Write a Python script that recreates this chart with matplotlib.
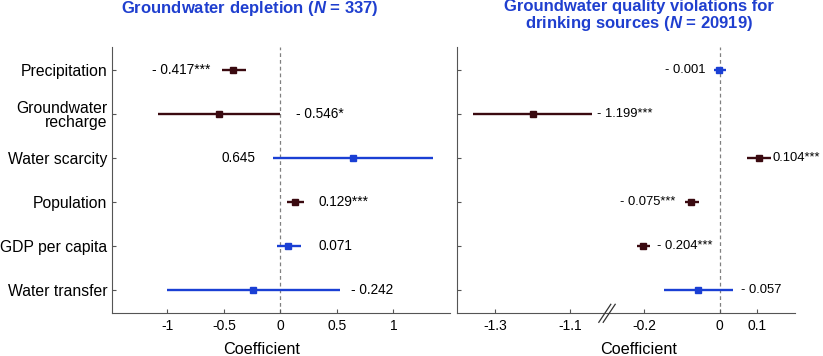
import numpy as np
import matplotlib.pyplot as plt

plt.rcParams['font.family'] = ['Liberation Sans', 'DejaVu Sans']
plt.rcParams['mathtext.fontset'] = 'custom'
plt.rcParams['mathtext.rm'] = 'Liberation Sans'
plt.rcParams['mathtext.bf'] = 'Liberation Sans:bold'
plt.rcParams['mathtext.bfit'] = 'Liberation Sans:bold:italic'

factors = ['Precipitation', 'Groundwater\nrecharge', 'Water scarcity',
           'Population', 'GDP per capita', 'Water transfer']

# groundwater depletion (N = 337)
dep_coef = [-0.417, -0.546, 0.645, 0.129, 0.071, -0.242]
dep_lo = [-0.514, -1.086, -0.064, 0.055, -0.028, -1.003]
dep_hi = [-0.309, -0.004, 1.353, 0.209, 0.180, 0.523]
dep_stars = ['***', '*', '', '***', '', '']

# groundwater quality violations (N = 20919)
qual_coef = [-0.001, -1.199, 0.104, -0.075, -0.204, -0.057]
qual_lo = [-0.016, -1.357, 0.072, -0.093, -0.221, -0.149]
qual_hi = [0.017, -1.043, 0.135, -0.055, -0.184, 0.035]
qual_stars = ['', '***', '***', '***', '***', '']

dep_ticks = [-1, -0.5, 0, 0.5, 1]
dep_ticklabels = ['-1', '-0.5', '0', '0.5', '1']
qual_ticks = [-1.3, -1.1, -0.2, 0, 0.1]
qual_ticklabels = ['-1.3', '-1.1', '-0.2', '0', '0.1']

# where the value label sits (side of the CI, gap in px)
dep_side = ['l', 'r', 'l', 'r', 'r', 'r']
dep_gap = [12, 16, 18, 14, 18, 11]
qual_side = ['l', 'r', 'r', 'l', 'r', 'r']
qual_gap = [8, 5, 2, 9, 7, 8]

MAROON = '#3a0a10'
BLUE = '#1a3fd4'
TITLE = '#1f3fcf'
SPINE = '#555555'

# broken axis for the right panel
BRK_LO, BRK_HI, SHIFT = -1.02, -0.31, 0.703


def fwd(x):
    x = np.asarray(x, dtype=float)
    lt = BRK_LO + SHIFT
    mid = lt + (x - BRK_LO) * (BRK_HI - lt) / (BRK_HI - BRK_LO)
    return np.where(x <= BRK_LO, x + SHIFT, np.where(x >= BRK_HI, x, mid))


def inv(t):
    t = np.asarray(t, dtype=float)
    lt = BRK_LO + SHIFT
    mid = BRK_LO + (t - lt) * (BRK_HI - BRK_LO) / (BRK_HI - lt)
    return np.where(t <= lt, t - SHIFT, np.where(t >= BRK_HI, t, mid))


def fmt(c, s):
    if c < 0:
        return '- %.3f%s' % (abs(c), s)
    return '%.3f%s' % (c, s)


def draw(ax, coef, lo, hi, stars, side, gap, fs):
    y = np.arange(len(factors))
    ax.axvline(0, color='#808080', lw=0.9, ls=(0, (3, 2.4)), zorder=1)
    for i in range(len(factors)):
        col = MAROON if stars[i] else BLUE
        ax.plot([lo[i], hi[i]], [y[i], y[i]], color=col, lw=1.7,
                solid_capstyle='butt', zorder=3)
        ax.plot(coef[i], y[i], 's', color=col, ms=5, zorder=4)
        if side[i] == 'l':
            x, dx, ha = lo[i], -gap[i] * 0.72, 'right'
        else:
            x, dx, ha = hi[i], gap[i] * 0.72, 'left'
        ax.annotate(fmt(coef[i], stars[i]), (x, y[i]), xytext=(dx, 0),
                    textcoords='offset points', ha=ha, va='center',
                    fontsize=fs, color='black', annotation_clip=False)
    ax.set_ylim(len(factors) - 0.48, -0.53)
    ax.set_yticks(y)
    for s in ['top', 'right']:
        ax.spines[s].set_visible(False)
    for s in ['left', 'bottom']:
        ax.spines[s].set_color(SPINE)
        ax.spines[s].set_linewidth(0.8)
    ax.tick_params(direction='in', length=3, width=0.8, color=SPINE)
    ax.tick_params(axis='x', labelsize=10, pad=4)
    ax.tick_params(axis='y', labelsize=11.3, pad=3.5)


fig = plt.figure(figsize=(8.23, 3.56), dpi=100)
W, H = 823, 356
ax1 = fig.add_axes([112 / W, 1 - 313.3 / H, 338 / W, 266.6 / H])
ax2 = fig.add_axes([457.3 / W, 1 - 313.3 / H, 337.7 / W, 266.6 / H])

draw(ax1, dep_coef, dep_lo, dep_hi, dep_stars, dep_side, dep_gap, 9.8)
ax1.set_xlim(-1.49, 1.5)
ax1.set_xticks(dep_ticks)
ax1.set_xticklabels(dep_ticklabels)
ax1.set_yticklabels(factors)
for lab in ax1.get_yticklabels():
    lab.set_linespacing(0.95)

ax2.set_xscale('function', functions=(fwd, inv))
draw(ax2, qual_coef, qual_lo, qual_hi, qual_stars, qual_side, qual_gap, 9.4)
ax2.set_xlim(-1.4, 0.2)
ax2.set_xticks(qual_ticks)
ax2.set_xticklabels(qual_ticklabels)
ax2.minorticks_off()
ax2.set_yticklabels([])

# break marks on the right x axis
cx = (607 - 457.3) / 337.7
for d in (-2.2, 2.2):
    ax2.plot([cx + (d - 6) / 337.7, cx + (d + 6) / 337.7],
             [-9 / 266.6, 9 / 266.6], transform=ax2.transAxes,
             color='#333333', lw=0.9, clip_on=False, zorder=5)

fig.text(250 / W, 1 - 9 / H, r'Groundwater depletion ($\bfit{N}$ = 337)',
         ha='center', va='center', fontsize=12, fontweight='bold', color=TITLE)
fig.text(639 / W, 1 - 16 / H,
         'Groundwater quality violations for\n' + r'drinking sources ($\bfit{N}$ = 20919)',
         ha='center', va='center', fontsize=12, fontweight='bold', color=TITLE,
         linespacing=0.95)
fig.text(262 / W, 1 - 349.5 / H, 'Coefficient', ha='center', va='center', fontsize=11.7)
fig.text(639 / W, 1 - 349.5 / H, 'Coefficient', ha='center', va='center', fontsize=11.7)

fig.savefig('out.png', dpi=100)
